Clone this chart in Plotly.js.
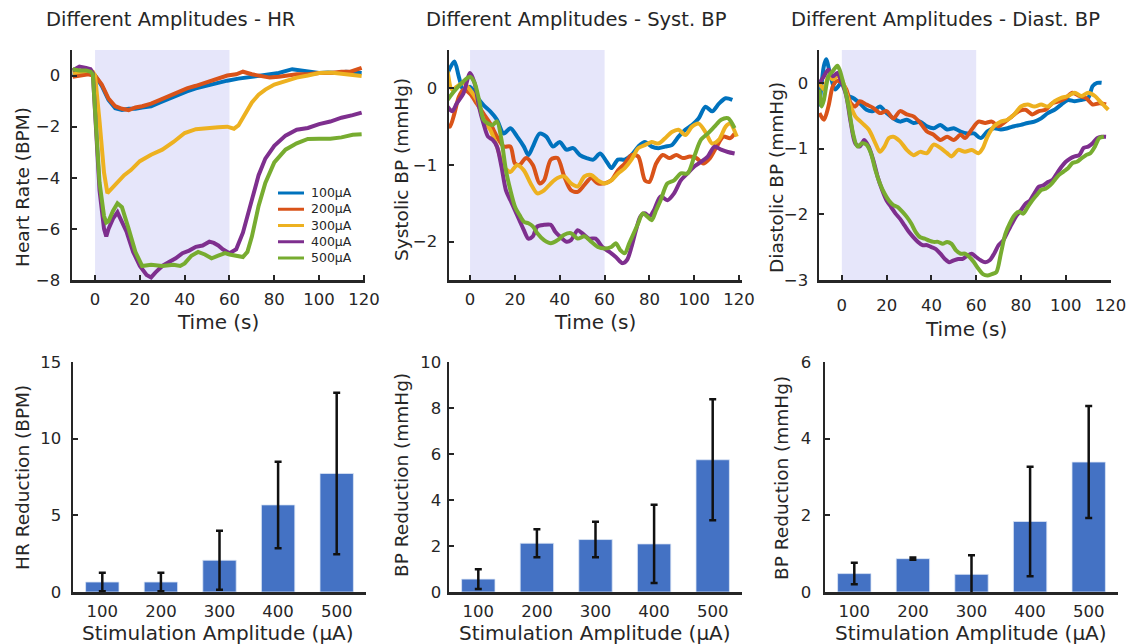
<!DOCTYPE html>
<html>
<head>
<meta charset="utf-8">
<script src="https://cdn.plot.ly/plotly-3.0.1.min.js"></script>
<style>html,body{margin:0;padding:0;background:#fff;}#chart{width:1128px;height:644px;}</style>
</head>
<body>
<div id="chart"></div>
<script>
// ---------------- DATA ----------------
var seriesNames = ['100\u03bcA', '200\u03bcA', '300\u03bcA', '400\u03bcA', '500\u03bcA'];
var seriesColors = ['#0072BD', '#D95319', '#EDB120', '#7E2F8E', '#77AC30'];
var stimWindow = [0, 60];

// Heart rate (BPM)
var hrT100 = [-10,-6,-3,-1,0,3,6,9,12,15,18,21,25,29,33,37,41,45,50,55,59,64,69,73,77,82,88,92,96,100,104,108,112,116,119];
var hrV100 = [0.1,0.05,0.1,0.05,0,-0.4,-0.95,-1.28,-1.35,-1.3,-1.3,-1.25,-1.2,-1.05,-0.9,-0.75,-0.62,-0.5,-0.38,-0.3,-0.2,-0.12,-0.05,0,0.05,0.1,0.25,0.2,0.15,0.1,0.12,0.1,0.15,0.12,0.1];
var hrT200 = [-10,-6,-3,-1,0,3,6,9,12,15,18,21,25,29,33,37,41,45,50,55,59,63,66,70,74,78,82,86,90,95,100,105,110,114,119];
var hrV200 = [-0.05,0,0.05,0,0,-0.35,-0.9,-1.2,-1.3,-1.35,-1.25,-1.2,-1.1,-0.95,-0.8,-0.65,-0.5,-0.4,-0.25,-0.1,0,0.05,0.15,0.05,0.0,-0.08,-0.05,0,0.05,0.05,0.1,0.1,0.15,0.15,0.3];
var hrT300 = [-10,-6,-3,-1,0,2,4,5.5,8,10,13,16,20,25,30,35,40,45,50,55,59,62,64,66,68,70,73,76,80,85,90,95,100,105,110,115,119];
var hrV300 = [0.1,0.15,0.2,0.15,0,-1.8,-3.8,-4.6,-4.35,-4.15,-3.9,-3.7,-3.35,-3.1,-2.9,-2.6,-2.25,-2.1,-2.05,-2.02,-2.0,-2.08,-1.95,-1.65,-1.35,-1.05,-0.75,-0.55,-0.35,-0.2,-0.08,0.0,0.1,0.12,0.08,0.05,-0.02];
var hrT400 = [-10,-7,-4,-2,-1,0,2,4,5,6,8,10,12,14,17,20,23,25,27,30,33,36,39,42,45,48,51,53,55,57,60,63,66,68,70,73,76,80,85,90,95,100,105,110,115,119];
var hrV400 = [0.2,0.35,0.3,0.25,0.1,-1.5,-4.5,-6.0,-6.3,-6.0,-5.6,-5.35,-5.7,-6.1,-6.9,-7.45,-7.8,-7.9,-7.7,-7.45,-7.3,-7.15,-6.95,-6.85,-6.7,-6.65,-6.5,-6.55,-6.65,-6.8,-6.95,-6.8,-6.15,-5.5,-4.85,-3.9,-3.25,-2.75,-2.35,-2.12,-2.05,-1.9,-1.8,-1.65,-1.55,-1.45];
var hrT500 = [-10,-7,-4,-2,-1,0,2,4,5,6,8,10,12,15,18,21,25,30,35,38,40,43,46,49,52,55,58,60,63,66,68,70,73,76,80,85,90,95,100,105,110,115,119];
var hrV500 = [0.25,0.2,0.2,0.15,0.05,-1.5,-4.2,-5.5,-5.75,-5.7,-5.3,-5.0,-5.15,-6.0,-6.9,-7.45,-7.4,-7.45,-7.4,-7.45,-7.35,-7.05,-6.9,-7.0,-7.15,-7.05,-6.95,-7.0,-7.05,-7.1,-6.9,-6.3,-5.1,-4.2,-3.4,-2.9,-2.65,-2.48,-2.47,-2.47,-2.42,-2.32,-2.3];

// Systolic BP (mmHg)
var sbpT100 = [-10,-7,-5,-3,0,3,6,9,12,15,18,21,24,26,28,31,34,37,40,43,46,49,52,55,58,61,63,66,69,72,75,78,81,84,87,90,93,96,99,102,105,108,111,114,117];
var sbpV100 = [0.2,0.35,0.15,-0.02,0.02,-0.11,-0.22,-0.3,-0.41,-0.59,-0.52,-0.63,-0.76,-0.87,-0.76,-0.59,-0.63,-0.76,-0.7,-0.8,-0.78,-0.87,-0.91,-0.93,-0.85,-0.96,-1.04,-0.93,-0.93,-0.87,-0.76,-0.7,-0.76,-0.78,-0.76,-0.74,-0.63,-0.54,-0.48,-0.39,-0.24,-0.3,-0.2,-0.13,-0.15];
var sbpT200 = [-10,-9,-7,-5,-3,0,3,6,9,12,15,18,20,22,25,28,31,33,36,39,42,45,48,51,54,57,60,63,66,69,72,75,78,80,83,86,89,92,95,98,101,104,107,110,113,116,118];
var sbpV200 = [-0.48,-0.5,-0.33,-0.11,-0.02,-0.07,-0.2,-0.33,-0.46,-0.63,-0.76,-0.76,-0.98,-1.0,-0.91,-1.0,-1.24,-1.2,-0.93,-0.91,-1.15,-1.33,-1.35,-1.26,-1.17,-1.24,-1.24,-1.2,-1.07,-0.98,-0.87,-0.89,-1.2,-1.22,-0.98,-0.87,-0.91,-0.87,-0.91,-0.89,-0.91,-0.98,-0.91,-0.76,-0.63,-0.65,-0.59];
var sbpT300 = [-10,-8,-6,-3,0,3,6,9,12,15,18,21,24,27,30,33,36,39,42,45,48,51,54,57,60,63,66,69,72,75,78,81,84,87,90,93,96,99,102,105,108,111,114,116,119];
var sbpV300 = [0.22,-0.02,0.02,0.07,-0.02,-0.15,-0.41,-0.54,-0.76,-1.02,-1.09,-1.0,-1.07,-1.24,-1.37,-1.33,-1.24,-1.17,-1.15,-1.24,-1.28,-1.15,-1.13,-1.2,-1.24,-1.2,-1.11,-1.04,-0.93,-0.78,-0.74,-0.7,-0.72,-0.65,-0.57,-0.54,-0.61,-0.5,-0.46,-0.57,-0.72,-0.67,-0.5,-0.46,-0.63];
var sbpT400 = [-10,-8,-6,-3,0,2,4,6,8,10,12,14,16,18,20,22,24,26,28,30,33,36,38,40,43,45,48,50,53,56,59,62,65,68,70,72,74,76,78,80,82,85,88,91,94,97,100,103,106,109,112,115,118];
var sbpV400 = [-0.24,-0.3,-0.2,-0.07,0.2,0.07,-0.24,-0.46,-0.63,-0.67,-0.76,-1.02,-1.33,-1.46,-1.59,-1.72,-1.85,-1.96,-1.93,-1.8,-1.78,-1.78,-1.87,-1.93,-2.0,-1.98,-1.85,-1.89,-1.96,-1.96,-2.07,-2.13,-2.2,-2.28,-2.24,-2.07,-1.85,-1.67,-1.63,-1.67,-1.59,-1.41,-1.46,-1.37,-1.2,-1.11,-1.02,-0.96,-0.89,-0.76,-0.8,-0.83,-0.85];
var sbpT500 = [-10,-8,-6,-3,0,2,4,6,8,10,12,14,16,18,20,22,24,26,28,30,33,36,39,42,45,48,51,54,57,60,63,65,67,69,71,73,75,77,79,81,83,85,88,91,94,97,100,103,106,109,112,115,118];
var sbpV500 = [-0.15,-0.07,0,0.09,0.15,0.07,-0.15,-0.41,-0.46,-0.48,-0.43,-0.67,-1.07,-1.33,-1.54,-1.65,-1.74,-1.76,-1.8,-1.89,-1.98,-2.02,-1.98,-1.91,-1.89,-1.96,-1.93,-2.0,-2.07,-2.09,-2.07,-2.02,-2.11,-2.15,-2.02,-1.89,-1.76,-1.63,-1.67,-1.72,-1.59,-1.46,-1.24,-1.2,-1.11,-1.11,-0.89,-0.67,-0.59,-0.5,-0.41,-0.39,-0.52];

// Diastolic BP (mmHg)
var dbpT100 = [-10,-8,-7,-5,-3,0,3,5,8,11,14,17,20,23,26,29,32,35,38,41,44,47,50,53,56,59,62,65,68,71,74,77,80,83,86,89,92,95,98,101,104,107,110,112,114,116];
var dbpV100 = [-0.36,0.26,0.36,0.1,-0.1,0,-0.2,-0.23,-0.31,-0.41,-0.43,-0.36,-0.46,-0.54,-0.59,-0.56,-0.61,-0.59,-0.66,-0.69,-0.64,-0.71,-0.69,-0.74,-0.77,-0.77,-0.84,-0.74,-0.69,-0.71,-0.69,-0.66,-0.64,-0.61,-0.59,-0.54,-0.46,-0.41,-0.33,-0.26,-0.28,-0.26,-0.23,-0.05,0,0];
var dbpT200 = [-10,-8,-6,-4,-2,0,2,4,6,8,11,14,17,20,23,26,29,32,35,38,41,44,47,50,53,55,58,61,64,67,70,73,76,79,82,85,88,91,94,97,100,103,106,109,112,115,118];
var dbpV200 = [-0.46,-0.56,-0.36,-0.05,0.03,0,-0.1,-0.31,-0.36,-0.28,-0.33,-0.38,-0.46,-0.43,-0.54,-0.43,-0.48,-0.51,-0.61,-0.74,-0.79,-0.87,-0.82,-0.87,-0.79,-0.84,-0.71,-0.59,-0.61,-0.59,-0.66,-0.59,-0.51,-0.43,-0.41,-0.48,-0.43,-0.41,-0.31,-0.28,-0.23,-0.15,-0.2,-0.23,-0.33,-0.31,-0.33];
var dbpT300 = [-10,-8,-6,-4,-2,0,2,4,6,9,12,15,17,19,21,23,26,29,32,35,38,41,44,47,49,52,55,58,61,63,65,68,71,74,77,80,83,86,89,92,95,98,101,104,107,110,113,116,119];
var dbpV300 = [0,-0.1,0.1,0.05,0.1,0.05,-0.15,-0.36,-0.51,-0.61,-0.71,-0.92,-1.05,-0.97,-0.84,-0.82,-0.89,-1.02,-1.1,-1.05,-1.07,-0.94,-0.99,-1.07,-1.12,-1.02,-1.05,-1.02,-1.07,-0.99,-0.82,-0.66,-0.59,-0.56,-0.48,-0.36,-0.33,-0.36,-0.33,-0.36,-0.28,-0.23,-0.2,-0.15,-0.2,-0.15,-0.2,-0.31,-0.41];
var dbpT400 = [-10,-8,-6,-4,-2,0,2,4,6,8,10,12,14,16,18,20,22,24,26,28,30,32,34,36,38,40,42,44,46,48,50,52,54,56,58,60,62,64,66,68,70,72,74,76,78,80,82,84,86,88,90,92,94,96,98,100,102,104,106,108,110,112,114,116,118];
var dbpV400 = [0,0.1,0.2,0.1,0.15,0,-0.2,-0.61,-0.92,-0.97,-0.87,-0.97,-1.17,-1.43,-1.63,-1.79,-1.89,-1.99,-2.07,-2.17,-2.27,-2.35,-2.42,-2.47,-2.47,-2.5,-2.53,-2.6,-2.68,-2.73,-2.7,-2.68,-2.68,-2.63,-2.6,-2.65,-2.7,-2.73,-2.7,-2.6,-2.47,-2.4,-2.27,-2.14,-2.02,-1.94,-1.84,-1.79,-1.68,-1.58,-1.56,-1.51,-1.48,-1.38,-1.28,-1.2,-1.15,-1.12,-1.1,-0.99,-0.97,-0.92,-0.84,-0.82,-0.82];
var dbpT500 = [-10,-9,-8,-6,-4,-2,-1,1,3,5,7,9,11,13,15,17,19,21,23,25,27,29,31,33,35,37,39,41,43,45,47,49,51,53,55,57,59,61,63,65,67,69,71,73,75,77,79,81,83,85,87,89,91,93,95,97,99,101,103,105,107,109,111,113,115,117];
var dbpV500 = [-0.1,-0.36,-0.26,0.1,0.18,0.26,0.2,-0.05,-0.36,-0.77,-0.97,-0.92,-0.94,-1.07,-1.33,-1.53,-1.68,-1.79,-1.86,-1.89,-1.96,-2.04,-2.14,-2.27,-2.35,-2.37,-2.4,-2.42,-2.42,-2.45,-2.42,-2.45,-2.55,-2.6,-2.6,-2.65,-2.73,-2.83,-2.91,-2.93,-2.91,-2.88,-2.6,-2.3,-2.14,-2.02,-1.96,-1.99,-1.89,-1.79,-1.71,-1.63,-1.61,-1.56,-1.48,-1.4,-1.35,-1.3,-1.22,-1.2,-1.15,-1.1,-1.07,-0.97,-0.84,-0.82];

// Bar charts: mean reduction and error (+/-)
var ampCategories = ['100', '200', '300', '400', '500'];
var hrReduction = [0.65, 0.65, 2.07, 5.68, 7.73];
var hrReductionErr = [0.6, 0.6, 1.92, 2.82, 5.27];
var sbpReduction = [0.56, 2.12, 2.28, 2.09, 5.75];
var sbpReductionErr = [0.43, 0.61, 0.77, 1.7, 2.63];
var dbpReduction = [0.48, 0.87, 0.46, 1.84, 3.39];
var dbpReductionErr = [0.28, 0.03, 0.5, 1.43, 1.46];

// ---------------- BUILD ----------------
var W = 1128, H = 644;
function px(x) { return x / W; }
function py(y) { return 1 - y / H; }

var FONT = 'DejaVu Sans, Verdana, sans-serif';
var INK = '#262626';
var TICK = 16.5;

var traces = [];
var hrT = [hrT100, hrT200, hrT300, hrT400, hrT500];
var hrV = [hrV100, hrV200, hrV300, hrV400, hrV500];
var sbpT = [sbpT100, sbpT200, sbpT300, sbpT400, sbpT500];
var sbpV = [sbpV100, sbpV200, sbpV300, sbpV400, sbpV500];
var dbpT = [dbpT100, dbpT200, dbpT300, dbpT400, dbpT500];
var dbpV = [dbpV100, dbpV200, dbpV300, dbpV400, dbpV500];

function addLines(T, V, xa, ya, shape) {
  for (var i = 0; i < 5; i++) {
    traces.push({
      type: 'scatter', mode: 'lines', x: T[i], y: V[i], xaxis: xa, yaxis: ya,
      name: seriesNames[i], showlegend: false,
      line: {color: seriesColors[i], width: 4, shape: shape, smoothing: 0.8},
      hoverinfo: 'skip'
    });
  }
}
addLines(hrT, hrV, 'x', 'y', 'linear');
addLines(sbpT, sbpV, 'x2', 'y2', 'spline');
addLines(dbpT, dbpV, 'x3', 'y3', 'spline');

function addBars(vals, errs, xa, ya) {
  traces.push({
    type: 'bar', x: ampCategories, y: vals, xaxis: xa, yaxis: ya, showlegend: false,
    width: 0.57,
    marker: {color: '#4472C4', line: {color: '#dce6f5', width: 0.8}},
    error_y: {type: 'data', array: errs, visible: true, color: '#111111', thickness: 2.5, width: 3.5},
    hoverinfo: 'skip'
  });
}
addBars(hrReduction, hrReductionErr, 'x4', 'y4');
addBars(sbpReduction, sbpReductionErr, 'x5', 'y5');
addBars(dbpReduction, dbpReductionErr, 'x6', 'y6');

function axisBase(extra) {
  var a = {
    showgrid: false, zeroline: false, showline: true, linecolor: INK, linewidth: 2.5,
    ticks: 'inside', ticklen: 5, tickwidth: 2, tickcolor: INK,
    tickfont: {family: FONT, size: TICK, color: INK},
    ticklabeloverflow: 'allow',
    mirror: false, fixedrange: true
  };
  for (var k in extra) a[k] = extra[k];
  return a;
}

var topDom = [py(280), py(50)];
var botDom = [py(592), py(362)];

var layout = {
  width: W, height: H, autosize: false,
  margin: {l: 0, r: 0, t: 0, b: 0, pad: 0},
  paper_bgcolor: '#ffffff', plot_bgcolor: 'rgba(0,0,0,0)',
  font: {family: FONT, color: INK},
  showlegend: false,
  xaxis: axisBase({domain: [px(72), px(365)], range: [-10.3, 120.5], anchor: 'y', tickvals: [0,20,40,60,80,100,120], ticklabelstandoff: 3}),
  yaxis: axisBase({domain: topDom, range: [-8, 1], anchor: 'x', tickvals: [-8,-6,-4,-2,0], ticklabelstandoff: 6}),
  xaxis2: axisBase({domain: [px(449), px(742)], range: [-9.4, 121.3], anchor: 'y2', tickvals: [0,20,40,60,80,100,120], ticklabelstandoff: 3}),
  yaxis2: axisBase({domain: topDom, range: [-2.5, 0.5], anchor: 'x2', tickvals: [-2,-1,0], ticklabelstandoff: 6}),
  xaxis3: axisBase({domain: [px(819), px(1111)], range: [-10.2, 120.2], anchor: 'y3', tickvals: [0,20,40,60,80,100,120], ticklabelstandoff: 9}),
  yaxis3: axisBase({domain: topDom, range: [-3, 0.5], anchor: 'x3', tickvals: [-3,-2,-1,0], ticklabelstandoff: 5}),
  xaxis4: axisBase({domain: [px(73), px(366)], type: 'category', range: [-0.5, 4.5], anchor: 'y4', ticks: '', ticklabelstandoff: 3}),
  yaxis4: axisBase({domain: botDom, range: [0, 15], anchor: 'x4', tickvals: [0,5,10,15], ticklabelstandoff: 6}),
  xaxis5: axisBase({domain: [px(449), px(742)], type: 'category', range: [-0.5, 4.5], anchor: 'y5', ticks: '', ticklabelstandoff: 3}),
  yaxis5: axisBase({domain: botDom, range: [0, 10], anchor: 'x5', tickvals: [0,2,4,6,8,10], ticklabelstandoff: 2}),
  xaxis6: axisBase({domain: [px(825), px(1118)], type: 'category', range: [-0.5, 4.5], anchor: 'y6', ticks: '', ticklabelstandoff: 3}),
  yaxis6: axisBase({domain: botDom, range: [0, 6], anchor: 'x6', tickvals: [0,2,4,6], ticklabelstandoff: 8}),
  shapes: [
    {type: 'rect', xref: 'x', yref: 'y domain', x0: stimWindow[0], x1: stimWindow[1], y0: 0, y1: 1, fillcolor: '#E6E6FA', line: {width: 0}, layer: 'below'},
    {type: 'rect', xref: 'x2', yref: 'y2 domain', x0: stimWindow[0], x1: stimWindow[1], y0: 0, y1: 1, fillcolor: '#E6E6FA', line: {width: 0}, layer: 'below'},
    {type: 'rect', xref: 'x3', yref: 'y3 domain', x0: stimWindow[0], x1: stimWindow[1], y0: 0, y1: 1, fillcolor: '#E6E6FA', line: {width: 0}, layer: 'below'}
  ],
  annotations: []
};

function ann(text, x, y, size, angle, xanchor, yanchor) {
  layout.annotations.push({
    text: text, xref: 'paper', yref: 'paper', x: px(x), y: py(y),
    xanchor: xanchor || 'center', yanchor: yanchor || 'middle', showarrow: false, textangle: angle || 0,
    align: 'left', borderpad: 0,
    font: {family: FONT, size: size, color: INK}
  });
}
// panel titles
ann('Different Amplitudes - HR', 170, 20, 19.5);
ann('Different Amplitudes - Syst. BP', 577, 20, 19.5);
ann('Different Amplitudes - Diast. BP', 945, 20, 19.5);
// x axis titles
ann('Time (s)', 218, 322, 20);
ann('Time (s)', 595, 322, 20);
ann('Time (s)', 966, 329, 20);
ann('Stimulation Amplitude (\u03bcA)', 218, 633, 20);
ann('Stimulation Amplitude (\u03bcA)', 595, 633, 20);
ann('Stimulation Amplitude (\u03bcA)', 971, 633, 20);
// y axis titles
ann('Heart Rate (BPM)', 22, 187, 18.5, -90);
ann('Systolic BP (mmHg)', 401, 170, 18.5, -90);
ann('Diastolic BP (mmHg)', 776, 178, 18.5, -90);
ann('HR Reduction (BPM)', 22, 478, 18.5, -90);
ann('BP Reduction (mmHg)', 401, 475, 18.5, -90);
ann('BP Reduction (mmHg)', 781, 478, 18.5, -90);

// compact legend (inside the heart-rate panel): one text block + colour samples
var LEG_SIZE = 12.5;
var legStep = LEG_SIZE * 1.3;
var legTop = 193;
var legText = seriesNames.join('<br>');
var legHeight = legStep * 5;
ann(legText, 310, legTop - legStep / 2 + legHeight / 2, LEG_SIZE, 0, 'left', 'middle');
for (var i = 0; i < 5; i++) {
  var yc = legTop + legStep * i;
  layout.shapes.push({type: 'line', xref: 'paper', yref: 'paper', x0: px(278), x1: px(304),
    y0: py(yc), y1: py(yc), line: {color: seriesColors[i], width: 3}});
}

Plotly.newPlot('chart', traces, layout, {displayModeBar: false, staticPlot: true});
</script>
</body>
</html>
